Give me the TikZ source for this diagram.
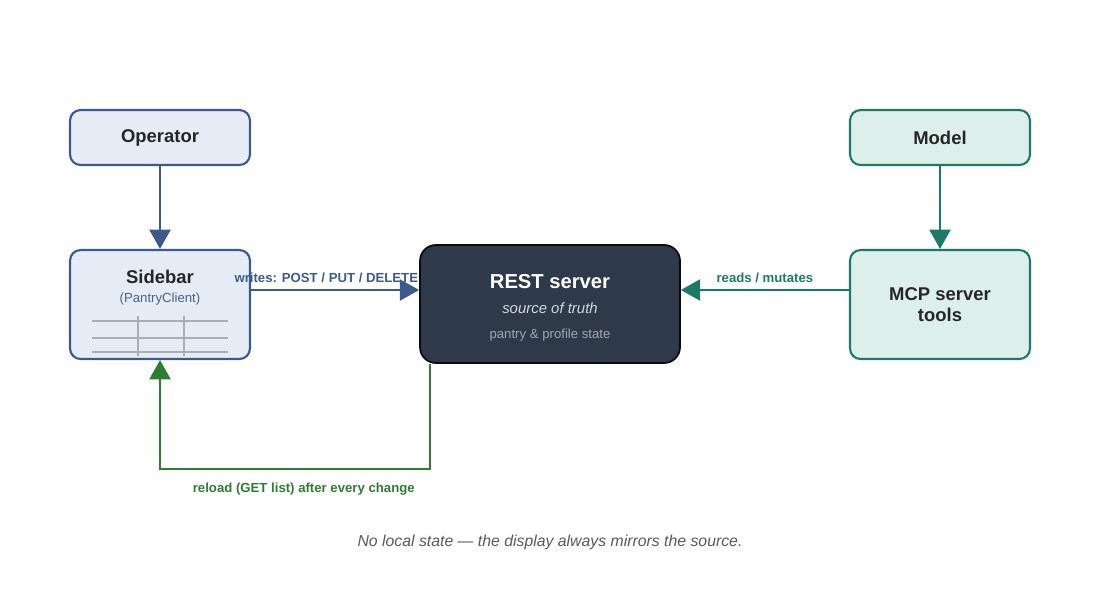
\documentclass[tikz,border=0pt]{standalone}
\usepackage{fontspec}
\setmainfont{Liberation Sans}
\usetikzlibrary{positioning,arrows.meta}
\definecolor{opblue}{HTML}{3D5A8C}
\definecolor{opfill}{HTML}{E6ECF6}
\definecolor{mdteal}{HTML}{1E7A68}
\definecolor{mdfill}{HTML}{DCEFEA}
\definecolor{srvdark}{HTML}{2E3A4A}
\definecolor{relgreen}{HTML}{2E7D32}
\definecolor{gridgray}{HTML}{A8AEB8}
\begin{document}
\begin{tikzpicture}[x=0.02cm,y=-0.02cm,
  box/.style={draw, rounded corners=6pt, line width=1.2pt, minimum width=3.6cm, align=center, font=\bfseries\fontsize{10.5}{12}\selectfont, text=black!85},
  opbox/.style={box, draw=opblue, fill=opfill},
  mdbox/.style={box, draw=mdteal, fill=mdfill},
  tip/.style={-{Triangle[length=11pt,width=12pt]}, line width=1.3pt},
  lbl/.style={font=\bfseries\fontsize{7.5}{9}\selectfont}]
\useasboundingbox (0,0) rectangle (1100,600);

\node (op) [opbox, minimum height=1.1cm] at (160,137.5) {Operator};
\node (model) [mdbox, minimum height=1.1cm] at (940,137.5) {Model};
\node (side) [opbox, minimum height=2.18cm] at (160,304.5) {};
\node (mcp) [mdbox, minimum height=2.18cm] at (940,304.5) {MCP server\\tools};
\node (rest) [draw=black!80!srvdark, fill=srvdark, rounded corners=9pt, line width=1pt,
  minimum width=5.2cm, minimum height=2.36cm] at (550,304) {};

% sidebar contents
\node (sidetitle) [font=\bfseries\fontsize{10.5}{12}\selectfont, text=black!85] at (160,277) {Sidebar};
\node (sidesub) [font=\fontsize{7.5}{9}\selectfont, text=opblue!80!gray] at (160,299) {(PantryClient)};
\foreach \yy in {321,338,352}
  \draw[gridgray, line width=1pt] (92,\yy) -- (228,\yy);
\foreach \xx in {138,184}
  \draw[gridgray, line width=1pt] (\xx,316) -- (\xx,356);

% server contents
\node (resttitle) [font=\bfseries\fontsize{11.5}{13}\selectfont, text=white] at (550,282) {REST server};
\node (restsub) [font=\itshape\fontsize{8.5}{10}\selectfont, text=white!80!srvdark] at (550,308) {source of truth};
\node (reststate) [font=\fontsize{7.5}{9}\selectfont, text=white!55!srvdark] at (550,335) {pantry \& profile state};

% connectors
\draw[tip, opblue] (op) -- (side);
\draw[tip, mdteal] (model) -- (mcp);
\draw[tip, opblue] (side.east |- 0,290) -- node[lbl, above, text=opblue, xshift=-5pt] {writes: POST / PUT / DELETE} (rest.west |- 0,290);
\draw[tip, mdteal] (mcp.west |- 0,290) -- node[lbl, above, text=mdteal] {reads / mutates} (rest.east |- 0,290);
\coordinate (loop) at (430,469);
\draw[tip, relgreen] (rest.south -| loop) -- (loop) -- node[lbl, below=4pt, text=relgreen, xshift=5pt] {reload (GET list) after every change} (loop -| side.south) -- (side.south);

\node (caption) [font=\itshape\fontsize{9}{11}\selectfont, text=black!65] at (550,542) {No local state — the display always mirrors the source.};
\end{tikzpicture}
\end{document}
